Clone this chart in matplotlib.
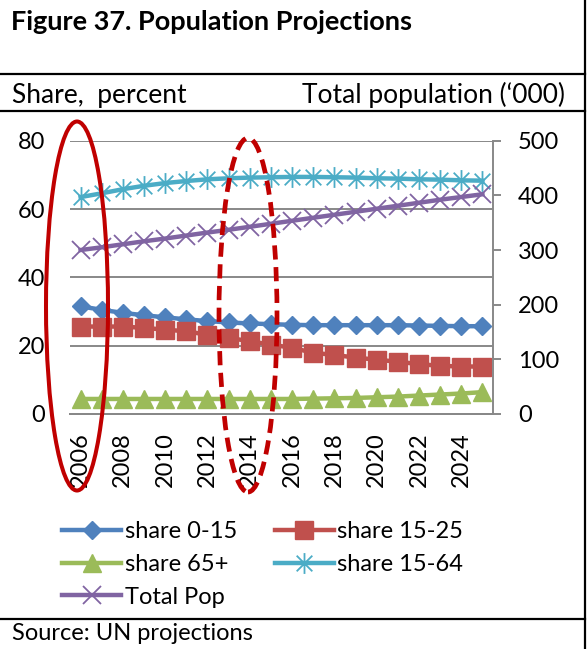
import numpy as np
import matplotlib
matplotlib.use('Agg')
import matplotlib.pyplot as plt
from matplotlib.patches import Ellipse
from matplotlib.lines import Line2D
from matplotlib.path import Path

plt.rcParams['font.family'] = ['Lato', 'DejaVu Sans']

# dados
anos = list(range(2006, 2026))
share_0_15 = [31.5, 30.5, 29.6, 28.9, 28.3, 27.7, 27.2, 26.8, 26.5, 26.3,
              26.1, 26.0, 26.0, 26.0, 26.0, 26.0, 25.9, 25.8, 25.7, 25.7]
share_15_25 = [25.6, 25.6, 25.6, 25.2, 24.7, 24.2, 23.2, 22.3, 21.3, 20.3,
               19.4, 17.9, 17.3, 16.5, 15.9, 15.3, 14.6, 14.1, 13.9, 13.9]
share_65 = [4.4, 4.4, 4.4, 4.4, 4.4, 4.4, 4.4, 4.4, 4.4, 4.4,
            4.4, 4.5, 4.6, 4.7, 4.9, 5.1, 5.4, 5.7, 6.0, 6.4]
share_15_64 = [63.5, 64.6, 65.8, 66.8, 67.6, 68.2, 68.7, 69.0, 69.2, 69.3,
               69.4, 69.4, 69.3, 69.2, 69.0, 68.9, 68.7, 68.6, 68.4, 68.3]
total_pop = [300, 305, 310.5, 316, 321, 326.5, 332, 337, 342.5, 348,
             353.5, 359, 364.5, 370, 375.5, 381, 386.5, 392, 397, 402]
rotulos_x = [str(a) if a % 2 == 0 else '' for a in anos]

W, H = 588, 649
fig = plt.figure(figsize=(W / 100, H / 100), dpi=100)

# área do gráfico em pixels
x0, x1, y_top, y_bot = 70, 493, 140.7, 414
ax = fig.add_axes([x0 / W, 1 - y_bot / H, (x1 - x0) / W, (y_bot - y_top) / H])
ax2 = ax.twinx()

cinza = '#888888'
x = np.arange(len(anos))

# marcador asterisco estilo Excel
ast = Path([(0, -1), (0, 1), (-0.75, -0.75), (0.75, 0.75), (-0.75, 0.75), (0.75, -0.75)],
           [Path.MOVETO, Path.LINETO, Path.MOVETO, Path.LINETO, Path.MOVETO, Path.LINETO])

l1, = ax.plot(x, share_0_15, color='#4F81BD', lw=3.2, marker='D', ms=9.5, label='share 0-15')
l2, = ax.plot(x, share_15_25, color='#C0504D', lw=3.2, marker='s', ms=13, label='share 15-25')
l3, = ax.plot(x, share_65, color='#9BBB59', lw=3.2, marker='^', ms=13, label='share 65+')
l4, = ax.plot(x, share_15_64, color='#4BACC6', lw=3.2, marker=ast, ms=15, mew=1.3, label='share 15-64')
l5, = ax2.plot(x, total_pop, color='#8064A2', lw=3.2, marker='x', ms=13, mew=1.3, label='Total Pop')

ax.set_xlim(-0.5, len(anos) - 0.5)
ax.set_ylim(0, 80)
ax2.set_ylim(0, 500)
ax.set_yticks([0, 20, 40, 60, 80])
ax2.set_yticks([0, 100, 200, 300, 400, 500])
ax.set_xticks(x)
ax.set_xticklabels(rotulos_x, rotation=90)

ax.grid(axis='y', color=cinza, lw=1.4)
ax.set_axisbelow(True)
for a in (ax, ax2):
    for s in ('top', 'left'):
        a.spines[s].set_visible(False)
    a.spines['bottom'].set_color(cinza)
    a.spines['bottom'].set_linewidth(1.4)
    a.spines['right'].set_color(cinza)
    a.spines['right'].set_linewidth(1.4)
ax.spines['right'].set_visible(False)

ax.tick_params(axis='x', length=0, pad=13, labelsize=17)
ax.tick_params(axis='y', length=0, pad=18, labelsize=17)
ax2.tick_params(axis='y', length=6, width=1.4, color=cinza, pad=12, labelsize=17)

# legenda em duas colunas (ordem por linha como no Excel)
fig.legend([l1, l3, l5, l2, l4], ['share 0-15', 'share 65+', 'Total Pop', 'share 15-25', 'share 15-64'],
           ncol=2, loc='upper left', bbox_to_anchor=(62 / W, 1 - 521 / H), frameon=False,
           fontsize=17, handlelength=2.5, handletextpad=0.15, columnspacing=1.6,
           labelspacing=0.5, borderpad=0, borderaxespad=0)

# textos e moldura
fig.text(11 / W, 1 - 22 / H, 'Figure 37. Population Projections', fontsize=19.5, fontweight='bold', va='center')
fig.text(12 / W, 1 - 95 / H, 'Share,  percent', fontsize=19, va='center')
fig.text(565 / W, 1 - 95 / H, 'Total population (\u2018000)', fontsize=19, va='center', ha='right')
fig.text(12 / W, 1 - 634 / H, 'Source: UN projections', fontsize=17, va='center')

for yy in (74, 111, 619):
    fig.add_artist(Line2D([0, 585 / W], [1 - yy / H, 1 - yy / H], color='black', lw=1.6))
fig.add_artist(Line2D([585 / W, 585 / W], [0, 1], color='black', lw=1.6))

# elipses vermelhas de destaque
t = fig.dpi_scale_trans
fig.add_artist(Ellipse((77 / 100, (H - 306) / 100), 62 / 100, 369 / 100, fill=False,
                       ec='#C00000', lw=2.9, transform=t, clip_on=False))
fig.add_artist(Ellipse((248 / 100, (H - 315) / 100), 58 / 100, 354 / 100, fill=False,
                       ec='#C00000', lw=3.4, ls=(0, (3, 1.6)), transform=t, clip_on=False))

fig.savefig('out.png', dpi=100)
